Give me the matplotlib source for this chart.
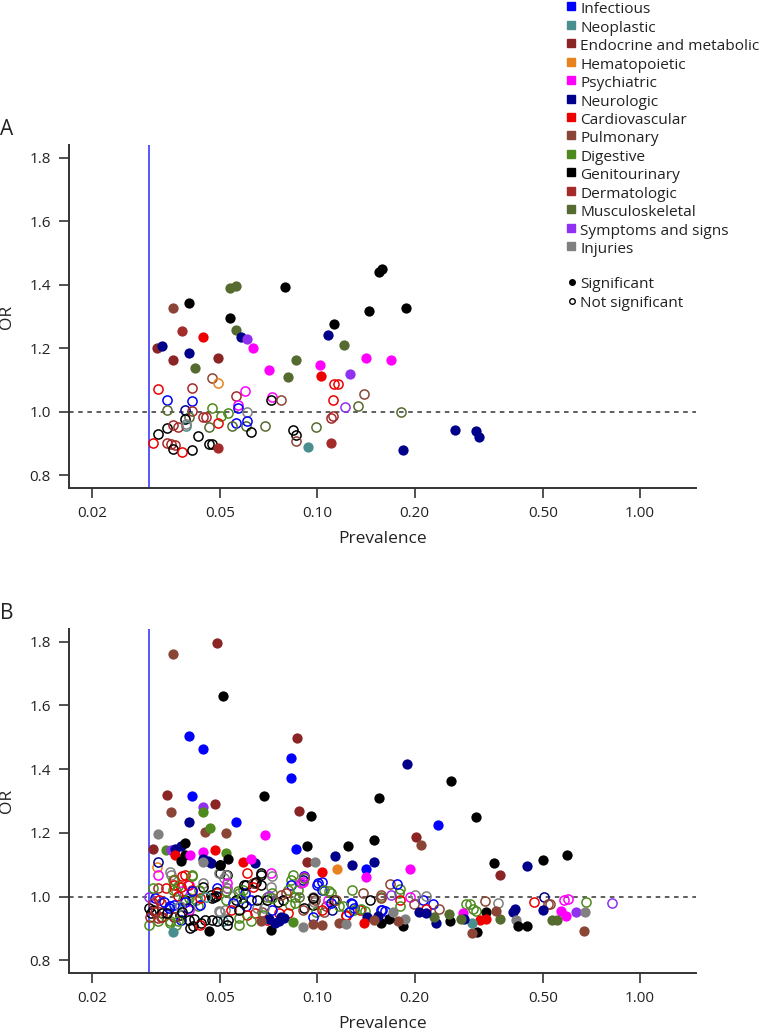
import matplotlib.pyplot as plt
from matplotlib.lines import Line2D

plt.rcParams['font.family'] = ['Open Sans', 'DejaVu Sans']

W, H = 760, 1035

CATEGORIES = ['Infectious', 'Neoplastic', 'Endocrine and metabolic', 'Hematopoietic',
              'Psychiatric', 'Neurologic', 'Cardiovascular', 'Pulmonary', 'Digestive',
              'Genitourinary', 'Dermatologic', 'Musculoskeletal', 'Symptoms and signs',
              'Injuries']
KEYS = ['INF', 'NEO', 'END', 'HEM', 'PSY', 'NEU', 'CAR', 'PUL', 'DIG', 'GU', 'DER',
        'MSK', 'SYM', 'INJ']
COLORS = ['#0000ff', '#4a8f8f', '#8b2525', '#e8821e', '#ff00ff', '#00008b', '#ee0000',
          '#8b4536', '#4e8b1e', '#000000', '#a52a2a', '#556b2f', '#9030f0', '#808080']
COLOR = dict(zip(KEYS, COLORS))

X_TICKS = [0.02, 0.05, 0.10, 0.20, 0.50, 1.00]
Y_TICKS = [0.8, 1.0, 1.2, 1.4, 1.6, 1.8]
CUTOFF = 0.03

# panel A: (category, prevalence, OR)
A_SIG = [
    ('END', 0.0318, 1.200), ('NEU', 0.0329, 1.206), ('PUL', 0.0358, 1.328),
    ('GU', 0.0399, 1.344), ('DER', 0.0380, 1.253), ('CAR', 0.0441, 1.237),
    ('NEU', 0.0399, 1.185), ('END', 0.0358, 1.162), ('END', 0.0491, 1.168),
    ('MSK', 0.0419, 1.137), ('MSK', 0.0538, 1.391), ('MSK', 0.0561, 1.397),
    ('GU', 0.0538, 1.294), ('MSK', 0.0561, 1.256), ('NEU', 0.0578, 1.237),
    ('SYM', 0.0607, 1.228), ('PSY', 0.0630, 1.200), ('GU', 0.0791, 1.394),
    ('PSY', 0.0710, 1.131), ('MSK', 0.0813, 1.109), ('MSK', 0.0861, 1.162),
    ('NEU', 0.1082, 1.241), ('GU', 0.1129, 1.275), ('MSK', 0.1213, 1.209),
    ('PSY', 0.1022, 1.146), ('CAR', 0.1029, 1.112), ('SYM', 0.1265, 1.118),
    ('PSY', 0.1419, 1.168), ('GU', 0.1449, 1.316), ('GU', 0.1556, 1.441),
    ('GU', 0.1589, 1.448), ('GU', 0.1887, 1.326), ('PSY', 0.1695, 1.162),
    ('DER', 0.1105, 0.902), ('DER', 0.0491, 0.886), ('NEO', 0.0938, 0.889),
    ('NEU', 0.1846, 0.880), ('NEU', 0.2675, 0.943), ('NEU', 0.3107, 0.939),
    ('NEU', 0.3175, 0.921),
]
A_NS = [
    ('CAR', 0.0320, 1.071), ('DER', 0.0410, 1.074), ('PUL', 0.0471, 1.106),
    ('HEM', 0.0491, 1.090), ('PSY', 0.0598, 1.065), ('DER', 0.0561, 1.049),
    ('PSY', 0.0726, 1.046), ('GU', 0.0718, 1.037), ('PUL', 0.0770, 1.037),
    ('INF', 0.0341, 1.037), ('INF', 0.0408, 1.034), ('MSK', 0.0341, 1.005),
    ('NEU', 0.0388, 1.005), ('DER', 0.0410, 1.002), ('DIG', 0.0471, 1.012),
    ('DIG', 0.0504, 0.987), ('DIG', 0.0530, 0.996), ('PSY', 0.0569, 1.021),
    ('INF', 0.0569, 1.012), ('INJ', 0.0607, 0.999), ('MSK', 0.0399, 0.983),
    ('GU', 0.0390, 0.977), ('NEO', 0.0393, 0.955), ('DER', 0.0441, 0.983),
    ('DER', 0.0453, 0.983), ('CAR', 0.0491, 0.965), ('MSK', 0.0460, 0.952),
    ('INF', 0.0561, 0.965), ('MSK', 0.0542, 0.955), ('MSK', 0.0603, 0.955),
    ('INF', 0.0607, 0.971), ('GU', 0.0621, 0.936), ('MSK', 0.0690, 0.955),
    ('GU', 0.0843, 0.943), ('GU', 0.0861, 0.927), ('PUL', 0.0861, 0.908),
    ('MSK', 0.0993, 0.952), ('DER', 0.1105, 0.980), ('GU', 0.0341, 0.949),
    ('GU', 0.0320, 0.930), ('DER', 0.0358, 0.958), ('DER', 0.0369, 0.952),
    ('GU', 0.0428, 0.924), ('CAR', 0.0309, 0.902), ('DER', 0.0341, 0.902),
    ('DER', 0.0353, 0.899), ('DER', 0.0363, 0.896), ('GU', 0.0358, 0.883),
    ('CAR', 0.0380, 0.874), ('GU', 0.0410, 0.880), ('GU', 0.0460, 0.899),
    ('GU', 0.0471, 0.899), ('CAR', 0.1117, 1.037), ('CAR', 0.1129, 1.087),
    ('CAR', 0.1162, 1.087), ('DER', 0.1117, 0.986), ('SYM', 0.1222, 1.015),
    ('MSK', 0.1340, 1.018), ('PUL', 0.1399, 1.056), ('MSK', 0.1820, 0.999),
    ('INJ', 0.0393, 0.962),
]

# panel B
B_SIG = [
    ('PUL', 0.0358, 1.760), ('END', 0.0490, 1.795), ('GU', 0.0511, 1.630),
    ('INF', 0.0400, 1.505), ('INF', 0.0441, 1.463), ('INF', 0.0408, 1.316),
    ('END', 0.0341, 1.320), ('PUL', 0.0351, 1.265), ('SYM', 0.0441, 1.282),
    ('DIG', 0.0441, 1.265), ('END', 0.0481, 1.291), ('NEU', 0.0400, 1.233),
    ('PUL', 0.0450, 1.202), ('DIG', 0.0465, 1.215), ('PUL', 0.0520, 1.199),
    ('INF', 0.0561, 1.235), ('INJ', 0.0320, 1.197), ('GU', 0.0682, 1.317),
    ('PSY', 0.0690, 1.193), ('END', 0.0310, 1.149), ('DIG', 0.0339, 1.147),
    ('SYM', 0.0351, 1.147), ('NEU', 0.0362, 1.150), ('CAR', 0.0362, 1.131),
    ('NEU', 0.0377, 1.160), ('GU', 0.0388, 1.169), ('GU', 0.0377, 1.113),
    ('GU', 0.0388, 1.131), ('PSY', 0.0403, 1.129), ('PSY', 0.0441, 1.139),
    ('NEU', 0.0441, 1.118), ('NEU', 0.0458, 1.113), ('NEU', 0.0469, 1.105),
    ('CAR', 0.0481, 1.147), ('DIG', 0.0520, 1.136), ('GU', 0.0501, 1.099),
    ('GU', 0.0530, 1.118), ('CAR', 0.0588, 1.108), ('NEU', 0.0640, 1.105),
    ('INJ', 0.0443, 1.107), ('PSY', 0.0625, 1.118), ('INF', 0.0860, 1.149),
    ('INF', 0.0831, 1.436), ('INF', 0.0831, 1.371), ('END', 0.0863, 1.497),
    ('END', 0.0879, 1.270), ('NEO', 0.0358, 0.890), ('GU', 0.0460, 0.893),
    ('GU', 0.0718, 0.896), ('NEU', 0.0710, 0.929), ('NEU', 0.0741, 0.917),
    ('NEU', 0.0760, 0.924), ('NEU', 0.0790, 0.932), ('NEU', 0.0770, 0.937),
    ('DIG', 0.0838, 0.920), ('PUL', 0.0671, 0.922), ('NEU', 0.1890, 1.417),
    ('GU', 0.2590, 1.364), ('GU', 0.1556, 1.309), ('GU', 0.0956, 1.252),
    ('GU', 0.3092, 1.249), ('INF', 0.2365, 1.224), ('END', 0.2020, 1.188),
    ('PUL', 0.2102, 1.163), ('GU', 0.1499, 1.179), ('GU', 0.1247, 1.160),
    ('GU', 0.0928, 1.158), ('NEU', 0.1138, 1.128), ('NEU', 0.1279, 1.099),
    ('NEU', 0.1494, 1.110), ('INF', 0.1411, 1.087), ('PSY', 0.1411, 1.062),
    ('PSY', 0.1939, 1.085), ('HEM', 0.1152, 1.086), ('CAR', 0.1035, 1.078),
    ('END', 0.0928, 1.110), ('INJ', 0.0986, 1.107), ('GU', 0.3532, 1.104),
    ('END', 0.3671, 1.067), ('NEU', 0.4474, 1.097), ('GU', 0.5010, 1.115),
    ('GU', 0.5926, 1.131), ('PSY', 0.5695, 0.955), ('PSY', 0.5900, 0.940),
    ('SYM', 0.6340, 0.950), ('INJ', 0.6740, 0.950), ('PUL', 0.6710, 0.892),
    ('MSK', 0.5350, 0.925), ('MSK', 0.5540, 0.927), ('NEU', 0.4985, 0.957),
    ('NEU', 0.4040, 0.953), ('NEU', 0.4090, 0.960), ('INJ', 0.4130, 0.925),
    ('GU', 0.4170, 0.909), ('GU', 0.4460, 0.906), ('MSK', 0.3690, 0.930),
    ('GU', 0.3340, 0.952), ('PUL', 0.3580, 0.955), ('CAR', 0.3200, 0.927),
    ('CAR', 0.3340, 0.930), ('GU', 0.3120, 0.888), ('PUL', 0.3010, 0.887),
    ('NEO', 0.3010, 0.918), ('PSY', 0.2820, 0.948), ('NEU', 0.2850, 0.930),
    ('MSK', 0.2780, 0.929), ('GU', 0.2570, 0.923), ('MSK', 0.2550, 0.945),
    ('NEU', 0.2330, 0.918), ('MSK', 0.2300, 0.937), ('NEU', 0.2070, 0.950),
    ('NEU', 0.2170, 0.948), ('GU', 0.1840, 0.906), ('GU', 0.1580, 0.918),
    ('INJ', 0.1870, 0.930), ('PUL', 0.1780, 0.922), ('GU', 0.1670, 0.930),
    ('INJ', 0.1720, 0.950), ('NEU', 0.1540, 0.939), ('NEU', 0.1430, 0.935),
    ('PUL', 0.1500, 0.927), ('CAR', 0.1390, 0.918), ('PUL', 0.1170, 0.918),
    ('INJ', 0.1230, 0.914), ('PUL', 0.0970, 0.914), ('PUL', 0.1030, 0.911),
    ('INJ', 0.0900, 0.903),
]
B_NS = [
    ('HEM', 0.0318, 1.094), ('NEU', 0.0320, 1.110), ('PSY', 0.0320, 1.068),
    ('INJ', 0.0349, 1.078), ('INJ', 0.0353, 1.068), ('CAR', 0.0380, 1.063),
    ('CAR', 0.0390, 1.068), ('DIG', 0.0410, 1.068), ('CAR', 0.0360, 1.052),
    ('PSY', 0.0400, 1.037), ('CAR', 0.0340, 1.026), ('DER', 0.0320, 1.026),
    ('DIG', 0.0356, 1.021), ('DIG', 0.0370, 1.034), ('PSY', 0.0380, 1.016),
    ('INJ', 0.0443, 1.042), ('GU', 0.0443, 1.031), ('INF', 0.0490, 1.026),
    ('PSY', 0.0526, 1.026), ('GU', 0.0500, 1.099), ('GU', 0.0498, 1.073),
    ('GU', 0.0526, 1.068), ('DIG', 0.0566, 1.016), ('CAR', 0.0607, 1.073),
    ('GU', 0.0600, 1.037), ('GU', 0.0640, 1.042), ('GU', 0.0469, 1.005),
    ('GU', 0.0485, 1.002), ('GU', 0.0490, 1.013), ('SYM', 0.0300, 1.000),
    ('INF', 0.0313, 0.995), ('GU', 0.0300, 0.964), ('GU', 0.0310, 0.958),
    ('GU', 0.0305, 0.948), ('DER', 0.0313, 0.953), ('DER', 0.0327, 0.979),
    ('DER', 0.0320, 0.932), ('GU', 0.0330, 0.948), ('DIG', 0.0300, 0.911),
    ('DIG', 0.0320, 0.922), ('INF', 0.0349, 0.969), ('GU', 0.0360, 0.937),
    ('GU', 0.0374, 0.943), ('NEO', 0.0366, 0.964), ('DIG', 0.0350, 0.917),
    ('DIG', 0.0366, 0.911), ('INF', 0.0377, 0.927), ('GU', 0.0390, 0.990),
    ('DIG', 0.0420, 0.990), ('DIG', 0.0426, 0.969), ('PSY', 0.0400, 0.958),
    ('GU', 0.0404, 0.901), ('GU', 0.0412, 0.909), ('GU', 0.0436, 0.917),
    ('GU', 0.0447, 0.925), ('CAR', 0.0432, 0.911), ('INF', 0.0432, 0.974),
    ('INJ', 0.0500, 0.953), ('INJ', 0.0517, 0.958), ('NEO', 0.0510, 0.922),
    ('GU', 0.0526, 0.911), ('GU', 0.0490, 0.922), ('GU', 0.0470, 0.925),
    ('GU', 0.0480, 1.000), ('CAR', 0.0488, 1.011), ('DIG', 0.0573, 1.011),
    ('DIG', 0.0588, 1.021), ('INF', 0.0600, 0.969), ('INF', 0.0621, 0.990),
    ('GU', 0.0560, 0.990), ('GU', 0.0588, 0.979), ('CAR', 0.0607, 0.943),
    ('CAR', 0.0640, 0.948), ('DIG', 0.0573, 0.932), ('DIG', 0.0621, 0.922),
    ('DIG', 0.0310, 1.026), ('CAR', 0.0360, 1.037), ('CAR', 0.0377, 1.031),
    ('CAR', 0.0396, 1.037), ('CAR', 0.0410, 1.021), ('DIG', 0.0410, 1.065),
    ('DIG', 0.0358, 1.052), ('DIG', 0.0366, 1.016), ('DIG', 0.0384, 0.990),
    ('DIG', 0.0400, 0.995), ('CAR', 0.0370, 1.002), ('CAR', 0.0432, 0.995),
    ('DIG', 0.0430, 1.021), ('INF', 0.0390, 0.984), ('NEU', 0.0396, 0.964),
    ('INF', 0.0346, 0.964), ('INF', 0.0360, 0.974), ('DER', 0.0330, 0.937),
    ('DER', 0.0360, 0.937), ('DIG', 0.0349, 0.922), ('DIG', 0.0370, 0.924),
    ('GU', 0.0400, 0.927), ('GU', 0.0415, 0.930), ('GU', 0.0470, 0.996),
    ('INJ', 0.0497, 1.073), ('INJ', 0.0520, 1.068), ('INJ', 0.0515, 1.057),
    ('INJ', 0.0525, 1.026), ('INJ', 0.0496, 0.956), ('DIG', 0.0520, 0.990),
    ('INJ', 0.0546, 1.002), ('INF', 0.0596, 1.011), ('DIG', 0.0580, 0.995),
    ('GU', 0.0594, 1.037), ('PUL', 0.0630, 1.042), ('GU', 0.0667, 1.068),
    ('PSY', 0.0718, 1.073), ('INJ', 0.0726, 1.063), ('GU', 0.0670, 1.073),
    ('GU', 0.0667, 1.037), ('GU', 0.0646, 1.047), ('INJ', 0.0720, 1.029),
    ('DIG', 0.0700, 1.000), ('DIG', 0.0726, 1.011), ('SYM', 0.0710, 1.002),
    ('DIG', 0.0838, 1.068), ('DIG', 0.0831, 1.052), ('INF', 0.0906, 1.063),
    ('NEU', 0.0900, 1.052), ('PSY', 0.0890, 1.044), ('INF', 0.0831, 1.037),
    ('DIG', 0.0810, 1.021), ('DIG', 0.0870, 1.021), ('DIG', 0.0850, 1.000),
    ('DER', 0.0800, 1.011), ('GU', 0.0780, 0.990), ('GU', 0.0755, 0.984),
    ('DIG', 0.0850, 0.979), ('DIG', 0.0820, 0.974), ('CAR', 0.0810, 0.948),
    ('CAR', 0.0760, 0.948), ('INF', 0.0726, 0.958), ('PUL', 0.0676, 0.953),
    ('INJ', 0.0682, 0.964), ('INJ', 0.0650, 0.964), ('DIG', 0.0680, 0.943),
    ('GU', 0.0650, 0.990), ('CAR', 0.0700, 0.927), ('INF', 0.1008, 1.042),
    ('INF', 0.1030, 1.047), ('INF', 0.1035, 1.021), ('GU', 0.0906, 0.964),
    ('GU', 0.0966, 0.974), ('INJ', 0.0966, 1.000), ('INJ', 0.0975, 0.984),
    ('PUL', 0.1064, 0.969), ('PUL', 0.1052, 0.953), ('NEU', 0.1110, 0.958),
    ('PSY', 0.1075, 0.990), ('DIG', 0.1100, 1.011), ('GU', 0.1130, 0.990),
    ('DIG', 0.1170, 0.969), ('DIG', 0.1280, 1.021), ('PUL', 0.1380, 1.011),
    ('GU', 0.1460, 0.990), ('DIG', 0.1570, 1.000), ('INF', 0.1270, 0.979),
    ('INF', 0.1300, 0.964), ('CAR', 0.1360, 0.958), ('INF', 0.1589, 0.958),
    ('CAR', 0.1230, 0.943), ('PSY', 0.0900, 1.047), ('PSY', 0.0910, 1.061),
    ('PUL', 0.0900, 0.958), ('PUL', 0.0970, 0.996), ('PUL', 0.0980, 0.990),
    ('DIG', 0.0990, 0.953), ('INF', 0.0970, 0.935), ('CAR', 0.1030, 0.958),
    ('INF', 0.1000, 1.035), ('DIG', 0.1050, 1.021), ('DIG', 0.1300, 0.958),
    ('DIG', 0.1370, 0.960), ('DIG', 0.1400, 0.955), ('INF', 0.1280, 0.976),
    ('DIG', 0.1800, 1.023), ('DIG', 0.1790, 1.011), ('PUL', 0.1680, 1.039),
    ('INF', 0.1760, 1.040), ('SYM', 0.1690, 1.005), ('CAR', 0.1800, 0.990),
    ('DIG', 0.1800, 0.969), ('PUL', 0.1570, 1.004), ('PUL', 0.1580, 0.997),
    ('INF', 0.1570, 0.958), ('INF', 0.1620, 0.955), ('CAR', 0.1230, 0.940),
    ('INF', 0.2290, 0.977), ('INF', 0.2130, 0.990), ('CAR', 0.2170, 0.962),
    ('PUL', 0.2380, 0.961), ('INJ', 0.2170, 1.002), ('INJ', 0.2000, 1.005),
    ('PSY', 0.1940, 1.000), ('PUL', 0.1990, 0.976), ('DIG', 0.2890, 0.976),
    ('DIG', 0.2980, 0.976), ('DIG', 0.3030, 0.962), ('DIG', 0.3100, 0.955),
    ('PUL', 0.3300, 0.987), ('INJ', 0.3640, 0.981), ('CAR', 0.4680, 0.984),
    ('NEU', 0.5030, 0.999), ('PUL', 0.5170, 0.976), ('PUL', 0.5240, 0.976),
    ('PSY', 0.5790, 0.988), ('PSY', 0.5960, 0.992), ('DIG', 0.6810, 0.984),
    ('SYM', 0.8210, 0.979), ('PSY', 0.0526, 1.044), ('CAR', 0.0630, 1.031),
    ('CAR', 0.0324, 0.990), ('DER', 0.0310, 0.979), ('INF', 0.0336, 0.984),
    ('DER', 0.0302, 0.937), ('DER', 0.0327, 0.937), ('GU', 0.0341, 0.948),
    ('INJ', 0.0374, 0.969), ('GU', 0.0380, 0.953), ('INF', 0.0410, 1.016),
    ('NEO', 0.0453, 1.000), ('DIG', 0.0520, 1.016), ('INF', 0.0546, 0.979),
    ('CAR', 0.0540, 0.958), ('GU', 0.0573, 0.958), ('GU', 0.0530, 0.927),
    ('DIG', 0.0573, 0.911), ('GU', 0.0696, 0.990), ('DIG', 0.0726, 0.995),
    ('PUL', 0.0770, 1.005), ('MSK', 0.0879, 1.000), ('GU', 0.0966, 0.995),
    ('DIG', 0.1088, 1.016), ('INF', 0.1100, 0.979), ('PUL', 0.1143, 0.990),
    ('DIG', 0.1200, 0.969), ('INF', 0.1250, 0.953), ('MSK', 0.0912, 1.058),
]


def draw_panel(ax, sig, ns, letter):
    ax.set_xscale('log')
    ax.set_xlim(0.017, 1.49)
    ax.set_ylim(0.76, 1.84)
    ax.axhline(1.0, color='#333333', lw=1.1, ls=(0, (3, 3)), zorder=1)
    ax.axvline(CUTOFF, color='#3a3aff', lw=1.2, zorder=1)
    for key, x, y in ns:
        ax.plot(x, y, 'o', ms=6.6, mfc='none', mec=COLOR[key], mew=1.1, zorder=2)
    for key, x, y in sig:
        ax.plot(x, y, 'o', ms=7.4, mfc=COLOR[key], mec=COLOR[key], mew=0, zorder=3)

    for s in ['top', 'right']:
        ax.spines[s].set_visible(False)
    for s in ['left', 'bottom']:
        ax.spines[s].set_color('#333333')
        ax.spines[s].set_linewidth(1.4)
    ax.set_xticks(X_TICKS)
    ax.set_xticklabels([f'{v:.2f}' for v in X_TICKS])
    ax.minorticks_off()
    ax.set_yticks(Y_TICKS)
    ax.set_yticklabels([f'{v:.1f}' for v in Y_TICKS])
    ax.tick_params(length=7, width=1.2, color='#333333', labelsize=11,
                   labelcolor='#222222', pad=6)
    ax.set_xlabel('Prevalence', fontsize=12.5, color='#222222')
    ax.set_ylabel('OR', fontsize=12.5, color='#222222')
    ax.xaxis.set_label_coords(0.5, -0.125)
    ax.yaxis.set_label_coords(-0.086, 0.5)
    ax.text(-0.11, 1.045, letter, transform=ax.transAxes, fontsize=15,
            color='#222222', ha='left', va='center')


fig = plt.figure(figsize=(W / 100, H / 100), dpi=100)
axA = fig.add_axes([69 / W, 1 - 488 / H, 627 / W, 343 / H])
axB = fig.add_axes([69 / W, 1 - 973 / H, 627 / W, 344 / H])
draw_panel(axA, A_SIG, A_NS, 'A')
draw_panel(axB, B_SIG, B_NS, 'B')

# legend, top right
for i, (name, col) in enumerate(zip(CATEGORIES, COLORS)):
    base = 13.3 + 18.45 * i
    fig.add_artist(Line2D([570.5 / W], [1 - (base - 7) / H], marker='s', ms=6,
                          mfc=col, mec=col, ls='none', transform=fig.transFigure))
    fig.text(580 / W, 1 - base / H, name, fontsize=11.1, color='#222222',
             va='baseline', ha='left')
for j, (lab, fill) in enumerate([('Significant', True), ('Not significant', False)]):
    base = 288.3 + 18.4 * j
    fig.add_artist(Line2D([571.5 / W], [1 - (base - 6) / H], marker='o', ms=4,
                          mfc='black' if fill else 'none', mec='black', mew=1.0,
                          ls='none', transform=fig.transFigure))
    fig.text(580 / W, 1 - base / H, lab, fontsize=11.1, color='#222222',
             va='baseline', ha='left')

fig.savefig('out.png', dpi=100)
